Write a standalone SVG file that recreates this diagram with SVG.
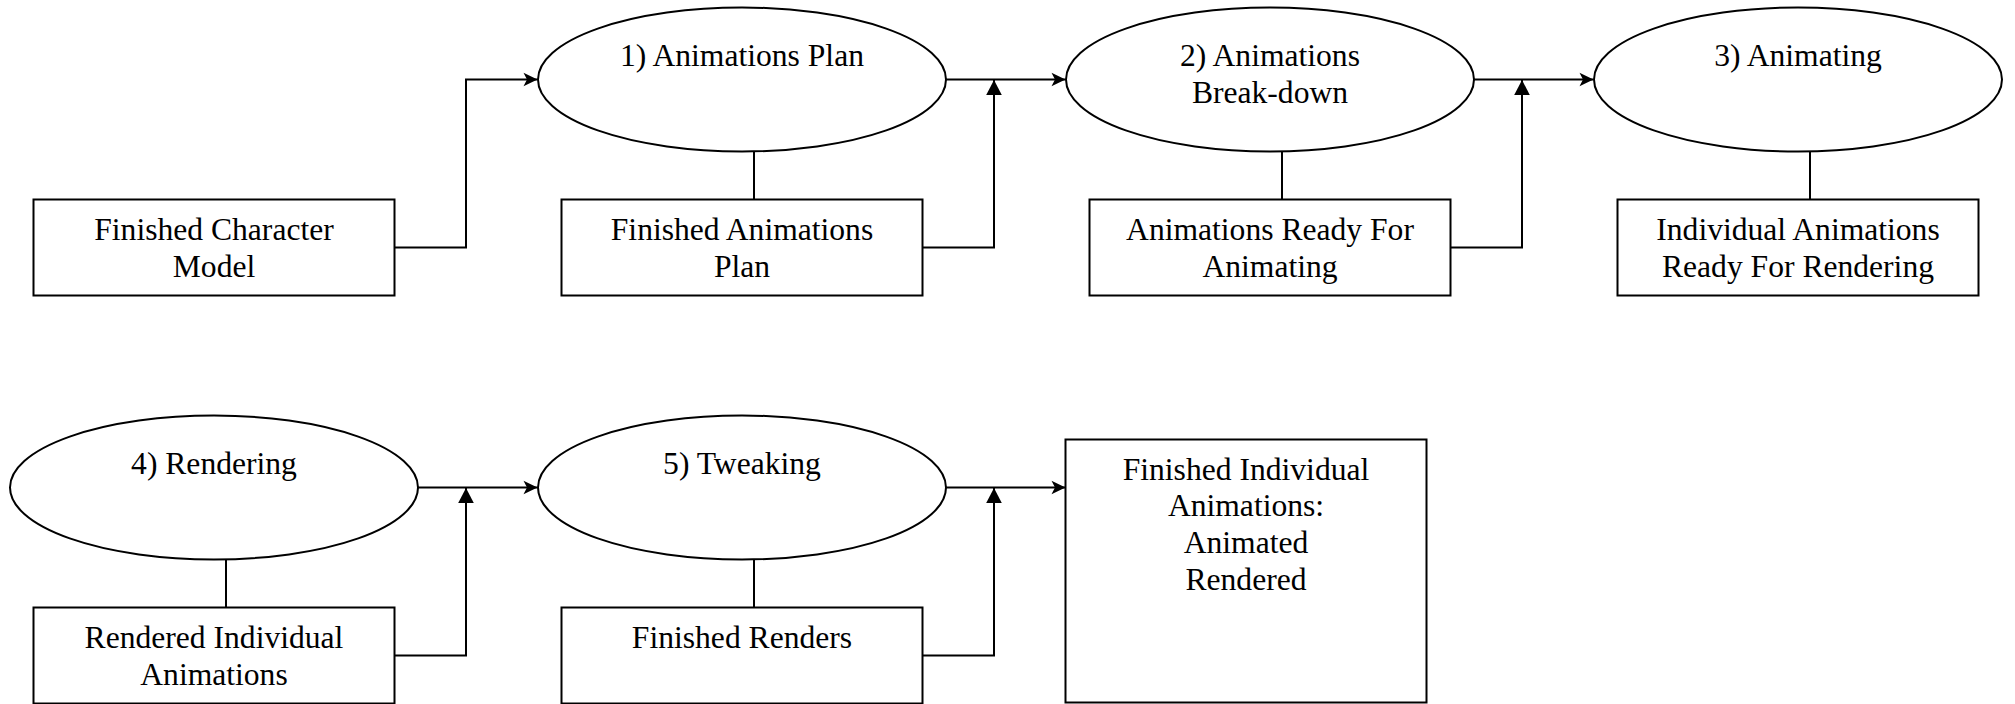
<svg xmlns="http://www.w3.org/2000/svg" width="2015" height="704" viewBox="0 0 2015 704">
  <style>
    .shape { fill: #ffffff; stroke: #000000; stroke-width: 2; }
    .edge { fill: none; stroke: #000000; stroke-width: 2; }
    .label { font-family: "Liberation Serif", "Times New Roman", serif; font-size: 31.6px; fill: #000000; text-anchor: middle; }
  </style>
  <defs>
    <!-- open-backed arrow used on the main flow -->
    <marker id="classic" viewBox="0 0 16 16" refX="15" refY="8" markerWidth="16" markerHeight="16" markerUnits="userSpaceOnUse" orient="auto">
      <path d="M1,1.3 L15,8 L1,14.7 L4.5,8 Z" fill="#000000"/>
    </marker>
    <!-- filled triangle used where outputs join the flow -->
    <marker id="block" viewBox="0 0 15 16" refX="15" refY="8" markerWidth="15" markerHeight="16" markerUnits="userSpaceOnUse" orient="auto">
      <path d="M0,0.2 L15,8 L0,15.8 Z" fill="#000000"/>
    </marker>
  </defs>
  <rect width="2015" height="704" fill="#ffffff"/>

  <!-- connectors -->
  <g id="connectors">
    <path class="edge" d="M394.5,247.5 H466 V79.5 H537.5" marker-end="url(#classic)"/>
    <path class="edge" d="M946,79.5 H1065.5" marker-end="url(#classic)"/>
    <path class="edge" d="M922.5,247.5 H994 V80" marker-end="url(#block)"/>
    <path class="edge" d="M1474,79.5 H1593.5" marker-end="url(#classic)"/>
    <path class="edge" d="M1450.5,247.5 H1522 V80" marker-end="url(#block)"/>
    <path class="edge" d="M418,487.5 H537.5" marker-end="url(#classic)"/>
    <path class="edge" d="M394.5,655.5 H466 V488" marker-end="url(#block)"/>
    <path class="edge" d="M946,487.5 H1065.5" marker-end="url(#classic)"/>
    <path class="edge" d="M922.5,655.5 H994 V488" marker-end="url(#block)"/>
    <line class="edge" x1="754" y1="151" x2="754" y2="199.5"/>
    <line class="edge" x1="1282" y1="151" x2="1282" y2="199.5"/>
    <line class="edge" x1="1810" y1="151" x2="1810" y2="199.5"/>
    <line class="edge" x1="226" y1="559" x2="226" y2="607.5"/>
    <line class="edge" x1="754" y1="559" x2="754" y2="607.5"/>
  </g>

  <!-- steps -->
  <g id="step1">
    <ellipse class="shape" cx="742" cy="79.5" rx="204" ry="72"/>
    <text class="label" x="742" y="65.5">1) Animations Plan</text>
  </g>
  <g id="step2">
    <ellipse class="shape" cx="1270" cy="79.5" rx="204" ry="72"/>
    <text class="label" x="1270" y="65.5">2) Animations</text>
    <text class="label" x="1270" y="102.5">Break-down</text>
  </g>
  <g id="step3">
    <ellipse class="shape" cx="1798" cy="79.5" rx="204" ry="72"/>
    <text class="label" x="1798" y="65.5">3) Animating</text>
  </g>
  <g id="step4">
    <ellipse class="shape" cx="214" cy="487.5" rx="204" ry="72"/>
    <text class="label" x="214" y="473.5">4) Rendering</text>
  </g>
  <g id="step5">
    <ellipse class="shape" cx="742" cy="487.5" rx="204" ry="72"/>
    <text class="label" x="742" y="473.5">5) Tweaking</text>
  </g>

  <!-- deliverables -->
  <g id="characterModel">
    <rect class="shape" x="33.5" y="199.5" width="361" height="96"/>
    <text class="label" x="214" y="240">Finished Character</text>
    <text class="label" x="214" y="277">Model</text>
  </g>
  <g id="animationsPlan">
    <rect class="shape" x="561.5" y="199.5" width="361" height="96"/>
    <text class="label" x="742" y="240">Finished Animations</text>
    <text class="label" x="742" y="277">Plan</text>
  </g>
  <g id="readyForAnimating">
    <rect class="shape" x="1089.5" y="199.5" width="361" height="96"/>
    <text class="label" x="1270" y="240">Animations Ready For</text>
    <text class="label" x="1270" y="277">Animating</text>
  </g>
  <g id="readyForRendering">
    <rect class="shape" x="1617.5" y="199.5" width="361" height="96"/>
    <text class="label" x="1798" y="240">Individual Animations</text>
    <text class="label" x="1798" y="277">Ready For Rendering</text>
  </g>
  <g id="renderedAnimations">
    <rect class="shape" x="33.5" y="607.5" width="361" height="96"/>
    <text class="label" x="214" y="648">Rendered Individual</text>
    <text class="label" x="214" y="685">Animations</text>
  </g>
  <g id="finishedRenders">
    <rect class="shape" x="561.5" y="607.5" width="361" height="96"/>
    <text class="label" x="742" y="648">Finished Renders</text>
  </g>
  <g id="finishedAnimations">
    <rect class="shape" x="1065.5" y="439.5" width="361" height="263"/>
    <text class="label" x="1246" y="479.5">Finished Individual</text>
    <text class="label" x="1246" y="516.3">Animations:</text>
    <text class="label" x="1246" y="553.1">Animated</text>
    <text class="label" x="1246" y="589.9">Rendered</text>
  </g>
</svg>
